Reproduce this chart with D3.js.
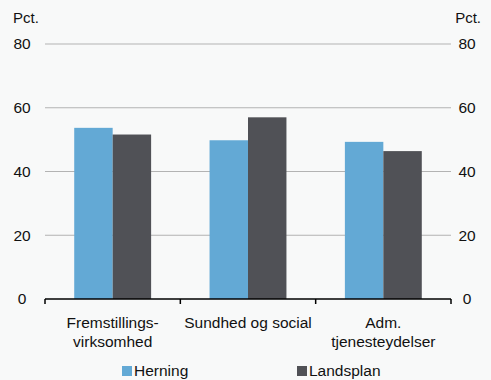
<!DOCTYPE html>
<html>
<head>
<meta charset="utf-8">
<script src="https://cdn.jsdelivr.net/npm/d3@7"></script>
<style>
  body { margin: 0; background: #f8f9f9; }
  svg { display: block; font-family: "Liberation Sans", Arial, sans-serif; }
</style>
</head>
<body>
<div id="chart"></div>
<script>
const categories = [["Fremstillings-", "virksomhed"], ["Sundhed og social"], ["Adm.", "tjenesteydelser"]];
const series = ["Herning", "Landsplan"];
const herning = [53.7, 49.8, 49.3];
const landsplan = [51.6, 57.0, 46.4];
const yTicks = [0, 20, 40, 60, 80];

const width = 491, height = 380;
const margin = {top: 44, right: 40, bottom: 81, left: 45};
const colors = ["#63a9d5", "#505156"];

const svg = d3.select("#chart")
  .append("svg")
  .attr("width", width)
  .attr("height", height);

const x = d3.scaleBand()
  .domain(d3.range(categories.length))
  .range([margin.left, width - margin.right]);

const x1 = d3.scaleBand()
  .domain(series)
  .range([0, x.bandwidth()])
  .paddingOuter(0.76)
  .paddingInner(0);

const y = d3.scaleLinear()
  .domain([0, 80])
  .range([height - margin.bottom, margin.top]);

// grid
svg.append("g")
  .selectAll("line")
  .data(yTicks.filter(d => d > 0))
  .join("line")
  .attr("x1", margin.left)
  .attr("x2", width - margin.right)
  .attr("y1", d => y(d))
  .attr("y2", d => y(d))
  .attr("stroke", "#b3b3b3")
  .attr("stroke-width", 1);

// left & right tick labels
svg.append("g")
  .selectAll("text")
  .data(yTicks)
  .join("text")
  .attr("x", 22)
  .attr("y", d => y(d))
  .attr("dy", "0.35em")
  .attr("text-anchor", "middle")
  .attr("font-size", 15.5)
  .attr("fill", "#111")
  .text(d => d);

svg.append("g")
  .selectAll("text")
  .data(yTicks)
  .join("text")
  .attr("x", 467)
  .attr("y", d => y(d))
  .attr("dy", "0.35em")
  .attr("text-anchor", "middle")
  .attr("font-size", 15.5)
  .attr("fill", "#111")
  .text(d => d);

svg.append("text").attr("x", 13).attr("y", 23).attr("font-size", 15).attr("fill", "#111").text("Pct.");
svg.append("text").attr("x", 481).attr("y", 23).attr("text-anchor", "end").attr("font-size", 15).attr("fill", "#111").text("Pct.");

// bars
const data = categories.map((c, i) => ({i, values: [herning[i], landsplan[i]]}));

svg.append("g")
  .selectAll("g")
  .data(data)
  .join("g")
  .attr("transform", d => `translate(${x(d.i)},0)`)
  .selectAll("rect")
  .data(d => d.values.map((v, j) => ({key: series[j], v, j})))
  .join("rect")
  .attr("x", d => x1(d.key))
  .attr("width", x1.bandwidth())
  .attr("y", d => y(d.v))
  .attr("height", d => y(0) - y(d.v))
  .attr("fill", d => colors[d.j]);

// x axis
const base = y(0);
svg.append("line")
  .attr("x1", margin.left).attr("x2", width - margin.right)
  .attr("y1", base).attr("y2", base)
  .attr("stroke", "#000").attr("stroke-width", 1.5);

const tickXs = d3.range(categories.length + 1).map(i => margin.left + i * x.step());
svg.append("g")
  .selectAll("line")
  .data(tickXs)
  .join("line")
  .attr("x1", d => d).attr("x2", d => d)
  .attr("y1", base).attr("y2", base + 5)
  .attr("stroke", "#000").attr("stroke-width", 1.5);

svg.append("g")
  .selectAll("text")
  .data(data)
  .join("text")
  .attr("text-anchor", "middle")
  .attr("font-size", 15.5)
  .attr("fill", "#111")
  .each(function(d) {
    d3.select(this).selectAll("tspan")
      .data(categories[d.i])
      .join("tspan")
      .attr("x", x(d.i) + x.bandwidth() / 2)
      .attr("y", (t, k) => base + 29 + k * 19)
      .text(t => t);
  });

// legend
const legend = svg.append("g")
  .selectAll("g")
  .data(series)
  .join("g")
  .attr("transform", (d, i) => `translate(${[122, 297][i]},366)`);

legend.append("rect")
  .attr("width", 10).attr("height", 10)
  .attr("fill", (d, i) => colors[i]);

legend.append("text")
  .attr("x", 12).attr("y", 10)
  .attr("font-size", 15.5)
  .attr("fill", "#111")
  .text(d => d);
</script>
</body>
</html>
